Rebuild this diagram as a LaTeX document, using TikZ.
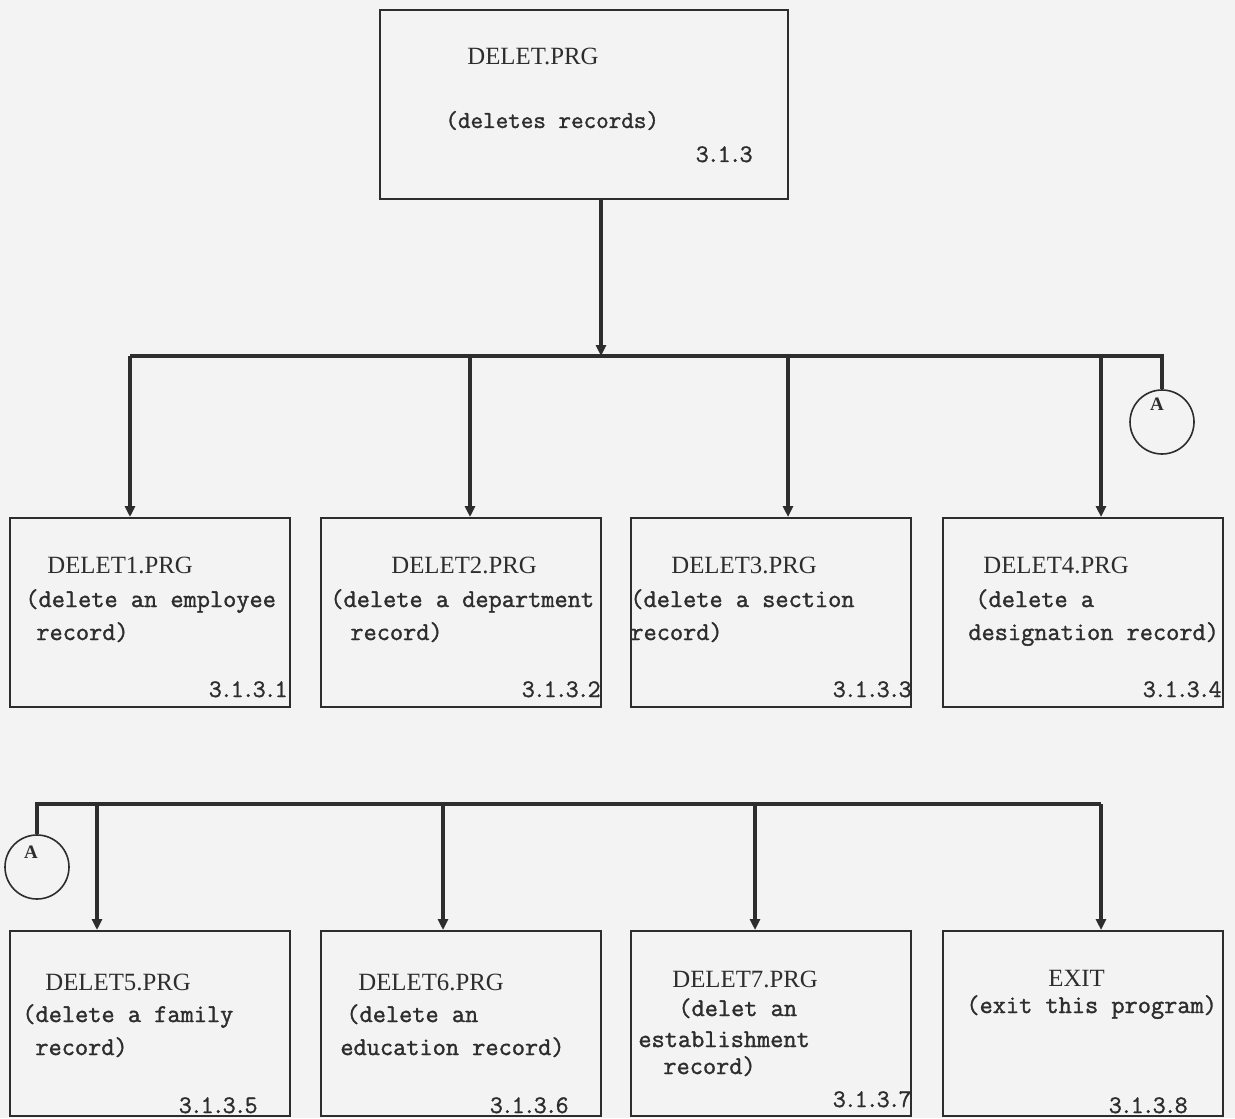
\documentclass[tikz,border=0pt]{standalone}
\usepackage{fontspec}
\setmainfont{Liberation Serif}
\newfontfamily\heavytt[FakeBold=1.4]{Latin Modern Mono}
\newfontfamily\digittt[FakeBold=1.2,LetterSpace=-8]{Latin Modern Mono}
\usetikzlibrary{arrows.meta,positioning}
\definecolor{ink}{RGB}{45,45,45}
\definecolor{paper}{RGB}{243,243,243}
\newcommand\prgfont{\rmfamily\fontsize{12.4}{15}\selectfont}
\newcommand\descfont{\heavytt\fontsize{12.8}{15}\selectfont}
\newcommand\numfont{\digittt\fontsize{12.6}{14}\selectfont}

\begin{document}
\begin{tikzpicture}[x=0.5pt,y=-0.5pt,
  prgbox/.style={draw=ink,line width=1pt,minimum width=140pt,minimum height=94.5pt,inner sep=0pt},
  bus/.style={draw=ink,line width=2pt},
  drop/.style={bus,-{Triangle[length=5.5pt,width=5pt]}},
  conn/.style={draw=ink,circle,line width=0.8pt,minimum size=32pt,inner sep=0pt},
  prg/.style={anchor=base west,inner sep=0pt,text=ink,font=\prgfont},
  desc/.style={anchor=base west,inner sep=0pt,text=ink,font=\descfont},
  num/.style={anchor=base east,inner sep=0pt,text=ink,font=\numfont},
]
  \fill[paper] (0,0) rectangle (1235,1118);
  \useasboundingbox (0,0) rectangle (1235,1118);

  % top module
  \node[prgbox,minimum width=204pt] (main) at (584,104.5) {};
  \node[prg] (mainp) at (467,65) {DELET.PRG};
  \node[desc,font=\heavytt\fontsize{12.2}{15}\selectfont] (maina) at (445,128) {(deletes records)};
  \node[num] (mainn) at (753,162) {3.1.3};

  % first row of sub-modules
  \node[prgbox] (d1) at (150,612.5) {};
  \node[prgbox] (d2) at (460.5,612.5) {};
  \node[prgbox] (d3) at (771,612.5) {};
  \node[prgbox] (d4) at (1083,612.5) {};

  \node[prg]  (d1p) at (47,573)  {DELET1.PRG};
  \node[desc] (d1a) at (25,607)  {(delete an employee};
  \node[desc] (d1b) at (36,640)  {record)};
  \node[num]  (d1n) at (288,697) {3.1.3.1};

  \node[prg]  (d2p) at (391,573) {DELET2.PRG};
  \node[desc] (d2a) at (330,607) {(delete a department};
  \node[desc] (d2b) at (350,640) {record)};
  \node[num]  (d2n) at (601,697) {3.1.3.2};

  \node[prg]  (d3p) at (671,573) {DELET3.PRG};
  \node[desc] (d3a) at (630,607) {(delete a section};
  \node[desc] (d3b) at (630,640) {record)};
  \node[num]  (d3n) at (912,697) {3.1.3.3};

  \node[prg]  (d4p) at (983,573) {DELET4.PRG};
  \node[desc] (d4a) at (975,607) {(delete a};
  \node[desc] (d4b) at (968,640) {designation record)};
  \node[num]  (d4n) at (1222,697) {3.1.3.4};

  % second row of sub-modules
  \node[prgbox,minimum height=92.5pt] (d5) at (150,1023.5) {};
  \node[prgbox,minimum height=92.5pt] (d6) at (460.5,1023.5) {};
  \node[prgbox,minimum height=92.5pt] (d7) at (771,1023.5) {};
  \node[prgbox,minimum height=92.5pt] (d8) at (1083,1023.5) {};

  \node[prg]  (d5p) at (45,990)   {DELET5.PRG};
  \node[desc] (d5a) at (22,1022)  {(delete a family};
  \node[desc] (d5b) at (35,1055)  {record)};
  \node[num]  (d5n) at (258,1113) {3.1.3.5};

  \node[prg]  (d6p) at (358,990)  {DELET6.PRG};
  \node[desc] (d6a) at (346,1022) {(delete an};
  \node[desc] (d6b) at (340,1055) {education record)};
  \node[num]  (d6n) at (569,1113) {3.1.3.6};

  \node[prg]  (d7p) at (672,987)  {DELET7.PRG};
  \node[desc] (d7a) at (678,1016) {(delet an};
  \node[desc] (d7b) at (638,1047) {establishment};
  \node[desc] (d7c) at (663,1074) {record)};
  \node[num]  (d7n) at (912,1107) {3.1.3.7};

  \node[prg]  (d8p) at (1048,986) {EXIT};
  \node[desc] (d8a) at (966,1013) {(exit this program)};
  \node[num]  (d8n) at (1188,1113) {3.1.3.8};

  % off-page connectors
  \node[conn] (conA) at (1162,422) {};
  \node[conn] (conB) at (37,867) {};
  \node[text=ink,font=\bfseries\fontsize{9.5}{10}\selectfont] (conAl) at (1157,404) {A};
  \node[text=ink,font=\bfseries\fontsize{9.5}{10}\selectfont] (conBl) at (31,852) {A};

  % junctions on the buses
  \coordinate (j0) at (601,356);
  \coordinate (b1) at (130,356);
  \coordinate (b2) at (470,356);
  \coordinate (b3) at (788,356);
  \coordinate (b4) at (1101,356);
  \coordinate (c1) at (97,804);
  \coordinate (c2) at (443,804);
  \coordinate (c3) at (755,804);
  \coordinate (c4) at (1101,804);

  \draw[drop] (main.south -| j0) -- (j0);
  \draw[bus] (b1) -- (conA.north |- b1) -- (conA.north);
  \foreach \b/\d in {b1/d1,b2/d2,b3/d3,b4/d4}
    \draw[drop] (\b) -- (\b |- \d.north);

  \draw[bus] (conB.north) -- (conB.north |- c1) -- (c4);
  \foreach \c/\d in {c1/d5,c2/d6,c3/d7,c4/d8}
    \draw[drop] (\c) -- (\c |- \d.north);
\end{tikzpicture}
\end{document}
